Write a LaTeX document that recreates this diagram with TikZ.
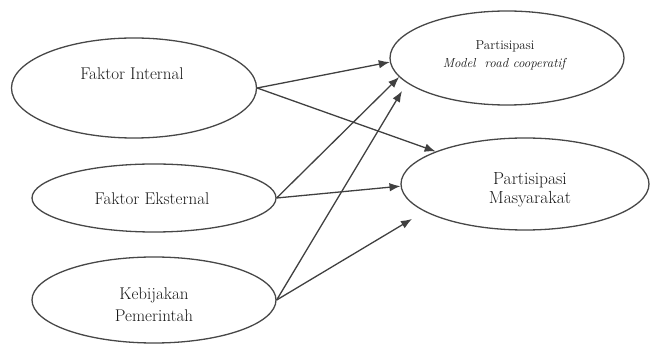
\documentclass[tikz,border=0pt]{standalone}
\usetikzlibrary{shapes.geometric,arrows.meta}
\begin{document}
\begin{tikzpicture}[x=1pt,y=-1pt,
  ell/.style={draw=black!72,line width=1.3pt,ellipse,inner sep=0pt},
  lbl/.style={align=center,inner sep=0pt,text=black!90,font=\fontsize{17}{22}\selectfont},
  small/.style={align=center,inner sep=0pt,text=black!90,font=\fontsize{13}{18}\selectfont},
  arr/.style={draw=black!75,line width=1.3pt,-{Latex[length=11pt,width=8.5pt]}}]
\useasboundingbox (0,0) rectangle (651,347);
% ellipses
\node[ell,minimum width=245pt,minimum height=100pt] (fi) at (134,88) {};
\node[ell,minimum width=244pt,minimum height=68pt] (fe) at (154,198) {};
\node[ell,minimum width=244pt,minimum height=86pt] (kp) at (154,300) {};
\node[ell,minimum width=234pt,minimum height=94pt] (pm) at (507,58) {};
\node[ell,minimum width=248pt,minimum height=92pt] (ms) at (525,184) {};
% texts
\node[lbl] (fiT) at (132,74) {Faktor Internal};
\node[lbl] (feT) at (152,199) {Faktor Eksternal};
\node[lbl] (kpT) at (154,305) {Kebijakan\\Pemerintah};
\node[small] (pmT) at (505,55) {Partisipasi\\\textit{Model\ \ road cooperatif}};
\node[lbl,font=\fontsize{17.5}{19}\selectfont] (msT) at (530,190) {Partisipasi\\Masyarakat};
% arrow end points
\coordinate (t3) at (402,91);
\coordinate (t6) at (412,219);
% connectors
\draw[arr] (fi.east) -- (pm.182);
\draw[arr] (fi.east) -- (ms.160);
\draw[arr] (fe.east) -- (pm.190);
\draw[arr] (fe.east) -- (ms.181);
\draw[arr] (kp.east) -- (t3);
\draw[arr] (kp.east) -- (t6);
\end{tikzpicture}
\end{document}
